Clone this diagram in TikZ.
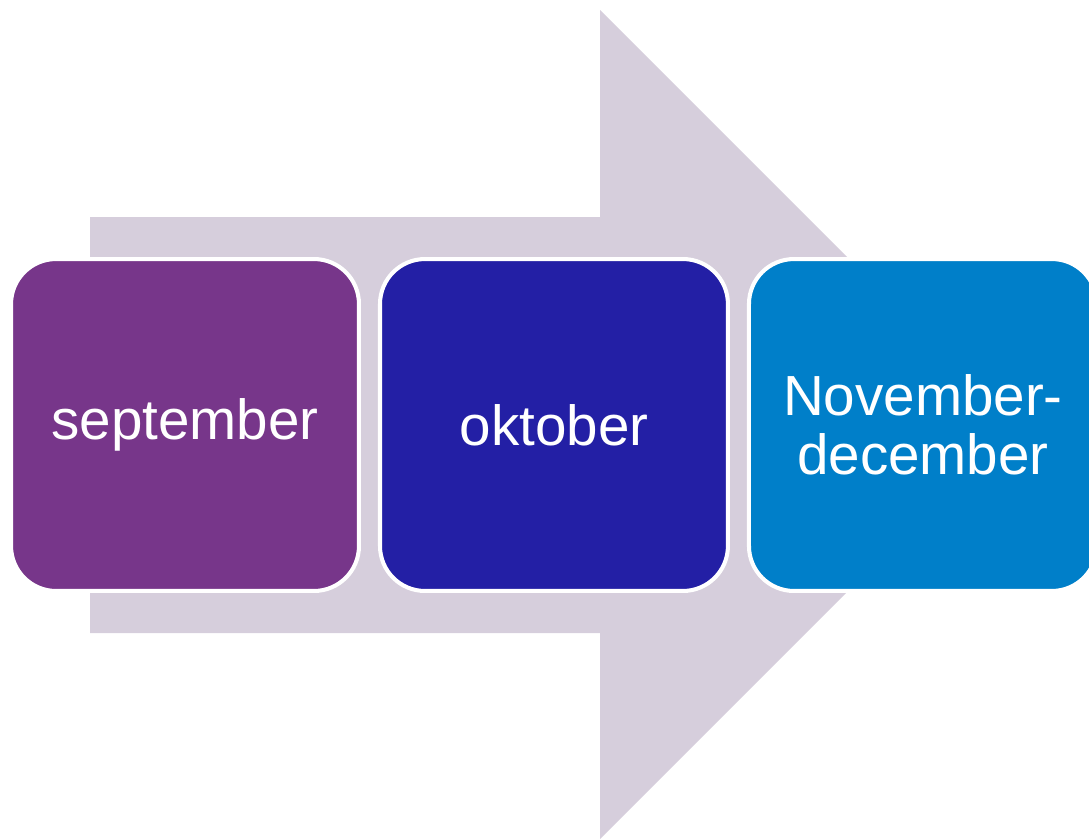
\documentclass[tikz,border=0pt]{standalone}
\usepackage{fontspec}
\setmainfont{Liberation Sans}
\usepackage[HTML]{xcolor}
\usepackage{tikz}
\usetikzlibrary{positioning}

\definecolor{arrowgray}{HTML}{D6CEDC}
\definecolor{monthpurple}{HTML}{77368A}
\definecolor{monthblue}{HTML}{231FA5}
\definecolor{monthcyan}{HTML}{007FC9}

\tikzset{
  monthbox/.style={rectangle, rounded corners=0.9cm, draw=white, line width=2.3pt,
    minimum width=6.96cm, minimum height=6.64cm, text=white, align=center,
    font=\fontsize{32.2}{33.5}\selectfont}
}

\begin{document}
\begin{tikzpicture}[x=0.02cm, y=-0.02cm]
\useasboundingbox (0,0) rectangle (1089,839);

% --- Background arrow ---
\fill[arrowgray] (90,217) -- (600,217) -- (600,10) -- (1014.5,424.5)
  -- (600,839) -- (600,633) -- (90,633) -- cycle;

% --- Month boxes ---
\node[monthbox, fill=monthpurple] (sep) at (185,425) {september};
\node[monthbox, fill=monthblue, right=0.34cm of sep] (okt) {oktober};
\node[monthbox, fill=monthcyan, right=0.34cm of okt] (novdec) {November-\\december};

\end{tikzpicture}
\end{document}
